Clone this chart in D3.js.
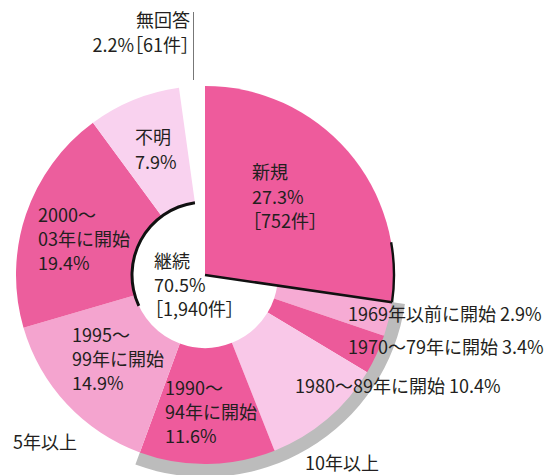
<!DOCTYPE html>
<html><head><meta charset="utf-8">
<script src="https://cdn.jsdelivr.net/npm/d3@7"></script>
<style>
body{margin:0;background:#fff}
text{font-family:"Noto Sans CJK JP","Noto Sans",sans-serif;fill:#231f20;font-size:18px}
text.br{font-feature-settings:"palt"}
</style>
</head><body>
<svg id="chart" width="544" height="475"></svg>
<script>
// ---- data ----
const categories = ["新規","1969年以前に開始","1970〜79年に開始","1980〜89年に開始","1990〜94年に開始","1995〜99年に開始","2000〜03年に開始","不明","無回答"];
const values = [27.3, 2.9, 3.4, 10.4, 11.6, 14.9, 19.4, 7.9, 2.2];
const countLabels = ["［752件］", "［1,940件］", "［61件］"];
const groupLabels = ["継続", "5年以上", "10年以上"];
const continuingShare = 70.5;

// ---- styles ----
const colors = ["#ee5b9c","#f6abd4","#ec5a9a","#f9c8e8","#ee5b9c","#f4a4cf","#ec5e9d","#f9d2ef","none"];

const svg = d3.select("#chart");
const cx = 205, cy = 275, R = 189, r0 = 73;
const g = svg.append("g").attr("transform", `translate(${cx},${cy})`);

const pie = d3.pie().sort(null).value(d => d)(values);
const arc = d3.arc();

// gray band behind the "10年以上" slices (1969〜1990-94)
g.append("path")
  .attr("d", arc({innerRadius: R - 1, outerRadius: R + 13, startAngle: pie[1].startAngle, endAngle: pie[4].endAngle}))
  .attr("fill", "#bcbcbc");

// slices
g.selectAll("path.slice").data(pie).join("path")
  .attr("class", "slice")
  .attr("d", (d, i) => arc({innerRadius: i === 0 ? 0 : r0, outerRadius: R, startAngle: d.startAngle, endAngle: d.endAngle}))
  .attr("fill", (d, i) => colors[i]);

// black outline strokes
const deg = Math.PI / 180;
const a0 = pie[0].endAngle;
g.append("path")
  .attr("d", arc({innerRadius: r0 - 1.5, outerRadius: r0 + 1.5, startAngle: -115 * deg, endAngle: pie[7].endAngle - 2 * Math.PI}))
  .attr("fill", "#111");
g.append("line")
  .attr("x1", 0).attr("y1", 0)
  .attr("x2", R * Math.sin(a0)).attr("y2", -R * Math.cos(a0))
  .attr("stroke", "#111").attr("stroke-width", 2.5);
g.append("path")
  .attr("d", arc({innerRadius: R - 1.2, outerRadius: R + 1.2, startAngle: 80 * deg, endAngle: a0}))
  .attr("fill", "#111");

// leader line for 無回答
svg.append("line").attr("x1", 193.5).attr("x2", 193.5).attr("y1", 12).attr("y2", 80)
  .attr("stroke", "#777").attr("stroke-width", 1);

// ---- labels ----
const pct = v => d3.format(".1f")(v) + "%";
function splitName(s) {
  const m = s.match(/^(\d{4}〜)(.*)$/);
  return m ? [m[1], m[2]] : [s];
}
const labelLayout = [
  {x: 252, y: 173, dy: 24.5, lines: [categories[0], pct(values[0]), countLabels[0]]},
  {x: 348, y: 315, dy: 0, lines: [categories[1] + " " + pct(values[1])]},
  {x: 348, y: 348, dy: 0, lines: [categories[2] + " " + pct(values[2])]},
  {x: 295, y: 387, dy: 0, lines: [categories[3] + " " + pct(values[3])]},
  {x: 165, y: 389, dy: 24, lines: [...splitName(categories[4]), pct(values[4])]},
  {x: 72, y: 336, dy: 24, lines: [...splitName(categories[5]), pct(values[5])]},
  {x: 38, y: 216, dy: 24, lines: [...splitName(categories[6]), pct(values[6])]},
  {x: 135, y: 138, dy: 25, lines: [categories[7], pct(values[7])]},
  {x: 190, y: 21, dy: 25, anchor: "end", lines: [categories[8], pct(values[8]) + countLabels[2]]},
  {x: 154, y: 262, dy: 24, lines: [groupLabels[0], pct(continuingShare), countLabels[1]]},
  {x: 13, y: 443, dy: 0, lines: [groupLabels[1]]},
  {x: 305, y: 464, dy: 0, lines: [groupLabels[2]]}
];
labelLayout.forEach(L => {
  L.lines.forEach((t, k) => {
    svg.append("text")
      .attr("class", t.includes("［") ? "br" : null)
      .attr("x", L.x).attr("y", L.y + k * L.dy + 6)
      .attr("text-anchor", L.anchor || "start")
      .text(t);
  });
});
</script>
</body></html>
